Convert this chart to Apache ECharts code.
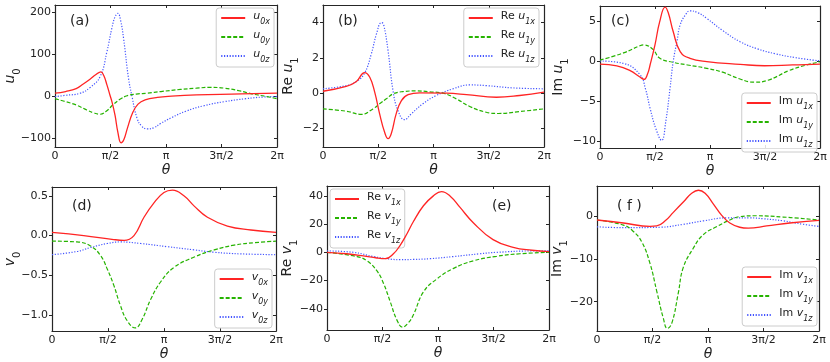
<!DOCTYPE html>
<html><head><meta charset="utf-8">
<script src="https://cdn.jsdelivr.net/npm/echarts@6/dist/echarts.min.js"></script>
<style>html,body{margin:0;padding:0;background:#fff}#c{width:830px;height:362px}</style>
</head><body><div id="c"></div>
<script>
// ---------- DATA (θ in radians) ----------
const thetaTickVals = [0, 0.5, 1, 1.5, 2];           // in units of π
const thetaTickLabels = ['0', 'π/2', 'π', '3π/2', '2π'];

// (a) u0
const u0x_t = [0,0.3,0.6,0.8,1.0,1.15,1.3,1.38,1.47,1.55,1.62,1.7,1.78,1.87,1.95,2.05,2.2,2.35,2.55,2.9,3.3,4.0,5.0,6.283];
const u0x_v = [8,12,19,30,42,52,59,50,28,5,-15,-45,-85,-110,-102,-75,-38,-18,-8,-2,1,4,6,8];
const u0y_t = [0,0.3,0.6,0.9,1.1,1.28,1.45,1.66,1.85,2.04,2.3,2.61,3.0,3.55,4.0,4.4,4.8,5.2,5.6,6.0,6.283];
const u0y_v = [-5,-12,-20,-32,-39,-42,-35,-18,-6,2,6,8,12,17,20,22,20,14,6,0,-5];
const u0z_t = [0,0.3,0.71,1.0,1.28,1.47,1.61,1.7,1.78,1.86,1.94,2.08,2.18,2.32,2.45,2.61,2.8,2.99,3.3,3.7,4.2,4.8,5.4,5.9,6.283];
const u0z_v = [0,3,8,22,48,107,163,190,198,180,139,44,0,-51,-70,-77,-74,-64,-50,-35,-22,-12,-5,-1,0];
const u0_ticks = [200, 100, 0, -100];

// (b) Re u1
const reU1x_t = [0,0.66,0.95,1.18,1.33,1.47,1.61,1.75,1.85,1.94,2.08,2.23,2.42,2.75,3.51,4.08,4.93,5.59,6.283];
const reU1x_v = [0.11,0.38,0.66,1.17,0.9,0.06,-1.17,-2.2,-2.58,-2.3,-1.17,-0.42,-0.08,0.02,0,-0.08,-0.23,-0.13,0.06];
const reU1y_t = [0,0.66,1.09,1.42,1.61,1.8,1.99,2.27,2.65,3.03,3.41,3.79,4.17,4.64,4.98,5.59,6.283];
const reU1y_v = [-0.89,-1.02,-1.2,-0.89,-0.6,-0.32,-0.04,0.09,0.13,0.08,0,-0.32,-0.75,-1.08,-1.15,-1.04,-0.89];
const reU1z_t = [0,0.66,0.95,1.18,1.37,1.52,1.66,1.72,1.85,1.99,2.13,2.32,2.51,2.84,3.22,3.7,4.17,4.64,5.4,6.283];
const reU1z_v = [0.25,0.43,0.66,1.13,2.2,3.36,4.0,3.92,2.4,0.15,-0.98,-1.5,-1.17,-0.6,-0.13,0.25,0.47,0.43,0.3,0.25];
const reU1_ticks = [4, 2, 0, -2];

// (c) Im u1
const imU1x_t = [0,0.48,0.86,1.14,1.26,1.36,1.43,1.57,1.7,1.86,1.95,2.09,2.29,2.57,3.05,4.0,4.7,5.5,6.283];
const imU1x_v = [-0.4,-0.6,-1.2,-2.0,-2.3,-1.6,-0.5,2.0,4.8,6.7,6.0,3.67,1.17,0.33,-0.08,-0.42,-0.6,-0.5,-0.4];
const imU1y_t = [0,0.67,1.14,1.24,1.5,1.71,2.09,2.5,3.05,3.5,4.0,4.4,4.8,5.4,5.9,6.283];
const imU1y_v = [0.1,1.0,1.9,2.0,1.5,0.33,-0.17,-0.5,-0.92,-1.4,-2.25,-2.65,-2.4,-1.2,-0.5,-0.1];
const imU1z_t = [0,0.67,1.14,1.3,1.43,1.6,1.76,1.88,2.0,2.09,2.2,2.29,2.45,2.57,2.8,3.05,3.5,4.0,4.5,5.0,5.6,6.283];
const imU1z_v = [0,-0.3,-1.7,-3.5,-5.9,-8.5,-9.9,-7.5,-3.4,-0.08,2.5,4.5,5.8,6.25,6.0,5.3,3.8,2.4,1.5,0.9,0.4,0];
const imU1_ticks = [5, 0, -5, -10];

// (d) v0
const v0x_t = [0,0.89,1.73,2.02,2.3,2.58,2.86,3.14,3.38,3.7,3.99,4.36,4.92,5.58,6.283];
const v0x_v = [0.04,0.0,-0.05,-0.06,0,0.23,0.41,0.54,0.57,0.5,0.37,0.23,0.12,0.07,0.04];
const v0y_t = [0,0.70,1.08,1.36,1.55,1.73,1.92,2.11,2.34,2.53,2.77,3.05,3.42,3.99,4.55,5.11,5.67,6.283];
const v0y_v = [-0.07,-0.08,-0.13,-0.25,-0.42,-0.62,-0.88,-1.07,-1.16,-1.05,-0.8,-0.58,-0.4,-0.27,-0.18,-0.12,-0.09,-0.07];
const v0z_t = [0,0.70,1.08,1.55,1.92,2.49,3.24,3.99,4.55,5.3,6.283];
const v0z_v = [-0.24,-0.2,-0.15,-0.1,-0.08,-0.1,-0.14,-0.18,-0.21,-0.23,-0.24];
const v0_ticks = [0.5, 0.0, -0.5, -1.0];

// (e) Re v1
const reV1x_t = [0,0.56,1.03,1.41,1.65,1.88,2.07,2.26,2.45,2.73,3.01,3.24,3.48,3.76,4.14,4.7,5.27,5.8,6.283];
const reV1x_v = [0,-1,-2.5,-4,-4.5,-1,5,13,22,33,40,43,40,32,21,9,3.6,1.5,0.5];
const reV1y_t = [0,0.85,1.13,1.41,1.6,1.79,1.98,2.14,2.3,2.45,2.73,3.1,3.57,4.14,4.8,5.46,6.283];
const reV1y_v = [0,-3,-6,-13,-22,-35,-48,-53,-50,-44,-28,-19,-11.5,-6,-2.8,-1,0];
const reV1z_t = [0,0.75,1.32,1.69,2.07,2.45,2.92,3.57,4.33,4.8,5.83,6.283];
const reV1z_v = [1,0,-3,-4.5,-5.2,-5,-4.5,-3,-1,0,1,1];
const reV1_ticks = [40, 20, 0, -20, -40];

// (f) Im v1
const imV1x_t = [0,0.75,1.5,1.69,1.93,2.16,2.45,2.68,2.87,3.06,3.29,3.53,3.76,4.04,4.28,4.8,5.46,6.283];
const imV1x_v = [-0.8,-1.5,-2.3,-2.2,-1.0,1.0,3.5,5.5,6.2,5.5,3,0.3,-1.5,-2.5,-2.7,-2.2,-1.5,-0.9];
const imV1y_t = [0,0.75,1.03,1.27,1.5,1.69,1.88,1.99,2.12,2.3,2.44,2.72,3.0,3.38,3.76,4.04,4.51,5.27,6.283];
const imV1y_v = [-0.8,-2,-3.5,-6,-11,-17.5,-24,-26.3,-25,-18,-12,-7.5,-4.3,-2.4,-0.8,0,0.2,-0.1,-0.8];
const imV1z_t = [0,0.75,1.79,2.45,3.01,3.67,4.33,4.7,5.27,5.83,6.283];
const imV1z_v = [-2.4,-2.6,-2.5,-1.8,-1.0,-0.3,-0.3,-0.5,-1.0,-1.8,-2.3];
const imV1_ticks = [0, -10, -20];

// ---------- LAYOUT / STYLE ----------
const FONT = 'DejaVu Sans';
const TXT = '#222';
const AX = '#262626';
const RED = '#ff2424', GREEN = '#26b300', BLUE = '#4455ff';

const panels = [
  {grid:{left:55,top:5,width:222,height:142}, ymin:-120, ymax:218, ticks:u0_ticks, dec:0,
   yname:'{i|u}{s|0}', ngap:34, label:'(a)', lx:70, ly:14,
   legend:{right:556, top:8},
   s:[['u0x',u0x_t,u0x_v],['u0y',u0y_t,u0y_v],['u0z',u0z_t,u0z_v]]},
  {grid:{left:323,top:5,width:221,height:142}, ymin:-3.05, ymax:5, ticks:reU1_ticks, dec:0,
   yname:'{r|Re }{i|u}{s|1}', ngap:24, label:'(b)', lx:338, ly:14,
   legend:{right:291, top:8},
   s:[['Re u1x',reU1x_t,reU1x_v],['Re u1y',reU1y_t,reU1y_v],['Re u1z',reU1z_t,reU1z_v]]},
  {grid:{left:600,top:6,width:220,height:142}, ymin:-10.85, ymax:6.85, ticks:imU1_ticks, dec:0,
   yname:'{r|Im }{i|u}{s|1}', ngap:31, label:'(c)', lx:611, ly:14,
   legend:{right:13, top:93},
   s:[['Im u1x',imU1x_t,imU1x_v],['Im u1y',imU1y_t,imU1y_v],['Im u1z',imU1z_t,imU1z_v]]},
  {grid:{left:52,top:187,width:224,height:145}, ymin:-1.2, ymax:0.61, ticks:v0_ticks, dec:1,
   yname:'{i|v}{s|0}', ngap:31, label:'(d)', lx:72, ly:199,
   legend:{right:558, top:269},
   s:[['v0x',v0x_t,v0x_v],['v0y',v0y_t,v0y_v],['v0z',v0z_t,v0z_v]]},
  {grid:{left:327,top:186,width:222,height:144}, ymin:-55, ymax:47, ticks:reV1_ticks, dec:0,
   yname:'{r|Re }{i|v}{s|1}', ngap:29, label:'(e)', lx:492, ly:199,
   legend:{left:330, top:189},
   s:[['Re v1x',reV1x_t,reV1x_v],['Re v1y',reV1y_t,reV1y_v],['Re v1z',reV1z_t,reV1z_v]]},
  {grid:{left:597,top:186,width:222,height:145}, ymin:-26.9, ymax:7.2, ticks:imV1_ticks, dec:0,
   yname:'{r|Im }{i|v}{s|1}', ngap:29, label:'( f )', lx:617, ly:199,
   legend:{right:13, top:267},
   s:[['Im v1x',imV1x_t,imV1x_v],['Im v1y',imV1y_t,imV1y_v],['Im v1z',imV1z_t,imV1z_v]]}
];

const lineStyles = [
  {color:RED, width:1.3, type:'solid'},
  {color:GREEN, width:1.2, type:[4,2]},
  {color:BLUE, width:1.2, type:[1.2,1.6]}
];

const legRich = {
  g:{width:3},
  r:{fontSize:11, fontFamily:FONT, color:TXT, lineHeight:14, verticalAlign:'top'},
  i:{fontSize:11, fontFamily:FONT, color:TXT, fontStyle:'italic', lineHeight:14, verticalAlign:'top'},
  s:{fontSize:8, fontFamily:FONT, color:TXT, fontStyle:'italic', lineHeight:10, padding:[7,0,0,0], verticalAlign:'top'}
};
const nameRich = {
  r:{fontSize:14, fontFamily:FONT, color:TXT, lineHeight:18, verticalAlign:'top'},
  i:{fontSize:14, fontFamily:FONT, color:TXT, fontStyle:'italic', lineHeight:18, verticalAlign:'top'},
  s:{fontSize:10, fontFamily:FONT, color:TXT, lineHeight:12, padding:[9,0,0,0], verticalAlign:'top'}
};
function legendText(name){
  const parts = name.split(' ');
  let pre = '', v = parts[parts.length-1];
  if (parts.length > 1) pre = '{r|' + parts[0] + ' }';
  return '{g|}' + pre + '{i|' + v[0] + '}{s|' + v.slice(1) + '}';
}
function fmtNum(v, dec){
  const s = dec ? Number(v).toFixed(dec) : String(Math.round(v));
  return s.replace('-', '\u2212');
}

const grid = [], xAxis = [], yAxis = [], series = [], legend = [], graphic = [];
const axLine = {show:true, onZero:false, lineStyle:{color:AX, width:1.2}};
panels.forEach((p, k) => {
  grid.push(Object.assign({containLabel:false}, p.grid));
  xAxis.push({type:'value', gridIndex:k, min:0, max:2, position:'bottom',
    axisLine:axLine, splitLine:{show:false},
    axisTick:{show:true, inside:true, length:3, lineStyle:{color:AX}, customValues:thetaTickVals},
    axisLabel:{show:true, margin:4, fontSize:11, fontFamily:FONT, color:TXT, customValues:thetaTickVals,
      formatter:v => thetaTickLabels[Math.round(v*2)]},
    name:'θ', nameLocation:'middle', nameGap:13,
    nameTextStyle:{fontSize:14, fontStyle:'italic', fontFamily:FONT, color:TXT, verticalAlign:'top'}});
  yAxis.push({type:'value', gridIndex:k, min:p.ymin, max:p.ymax, position:'left',
    axisLine:axLine, splitLine:{show:false},
    axisTick:{show:true, inside:false, length:3, lineStyle:{color:AX}, customValues:p.ticks},
    axisLabel:{show:true, margin:4, fontSize:11, fontFamily:FONT, color:TXT, customValues:p.ticks,
      formatter:v => fmtNum(v, p.dec)},
    name:p.yname, nameLocation:'middle', nameRotate:90, nameGap:p.ngap, nameMoveOverlap:false,
    nameTextStyle:{rich:nameRich}});
  p.s.forEach((sr, j) => {
    series.push({type:'line', name:sr[0], xAxisIndex:k, yAxisIndex:k,
      data: sr[1].map((t, q) => [t/Math.PI, sr[2][q]]),
      symbol:'none', smooth:0.45, clip:true,
      lineStyle:lineStyles[j], itemStyle:{color:lineStyles[j].color}, emphasis:{disabled:true}, z:3-j+2});
  });
  legend.push(Object.assign({
    data:p.s.map(sr => sr[0]), orient:'vertical', itemWidth:24, itemHeight:10, itemGap:4,
    padding:[3,4,3,4], backgroundColor:'rgba(255,255,255,0.85)', borderColor:'#cccccc',
    borderWidth:1, borderRadius:3, selectedMode:false,
    itemStyle:{opacity:0, borderWidth:0},
    formatter:legendText, textStyle:{rich:legRich}
  }, p.legend));
  graphic.push({type:'text', left:p.lx, top:p.ly, z:10,
    style:{text:p.label, fontSize:14, fontFamily:FONT, fill:TXT}});
});
// mirrored axes for top/right inward ticks
panels.forEach((p, k) => {
  xAxis.push({type:'value', gridIndex:k, min:0, max:2, position:'top',
    axisLine:axLine, splitLine:{show:false}, axisLabel:{show:false},
    axisTick:{show:true, inside:true, length:3, lineStyle:{color:AX}, customValues:thetaTickVals}});
  yAxis.push({type:'value', gridIndex:k, min:p.ymin, max:p.ymax, position:'right',
    axisLine:axLine, splitLine:{show:false}, axisLabel:{show:false},
    axisTick:{show:true, inside:true, length:3, lineStyle:{color:AX}, customValues:p.ticks}});
});

const chart = echarts.init(document.getElementById('c'), null, {renderer:'canvas'});
chart.setOption({animation:false, backgroundColor:'#fff', grid, xAxis, yAxis, series, legend, graphic});
</script></body></html>
